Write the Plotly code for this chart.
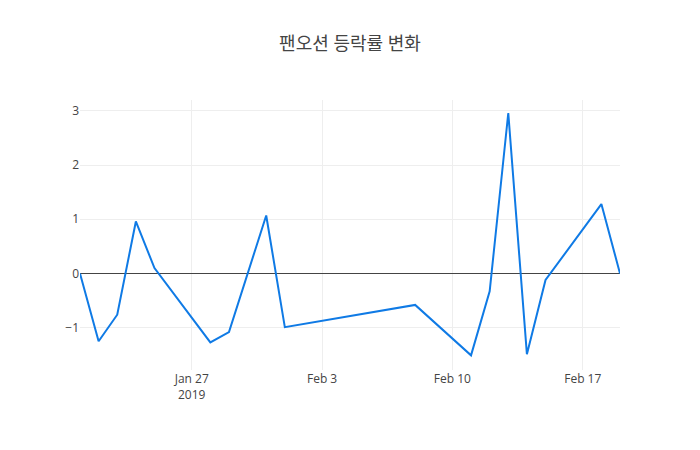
import plotly.graph_objects as go

dates = ["2019-01-21", "2019-01-22", "2019-01-23", "2019-01-24", "2019-01-25",
         "2019-01-28", "2019-01-29", "2019-01-31", "2019-02-01", "2019-02-08",
         "2019-02-11", "2019-02-12", "2019-02-13", "2019-02-14", "2019-02-15",
         "2019-02-18", "2019-02-19"]
change_rate = [0.0, -1.25, -0.76, 0.96, 0.10,
               -1.27, -1.08, 1.07, -0.99, -0.58,
               -1.51, -0.33, 2.96, -1.49, -0.12,
               1.28, 0.0]

fig = go.Figure(go.Scatter(
    x=dates, y=change_rate, mode="lines",
    line=dict(color="#0f7ae5", width=2),
))

fig.update_layout(
    width=700, height=450,
    title=dict(text="팬오션 등락률 변화", x=0.5, xanchor="center"),
    font=dict(family="'Open Sans', 'Noto Sans CJK KR', sans-serif", color="#444", size=12),
    title_font=dict(size=18),
    plot_bgcolor="white", paper_bgcolor="white",
    margin=dict(l=80, r=80, t=100, b=80),
    showlegend=False,
    xaxis=dict(showgrid=True, gridcolor="#eee", zeroline=False,
               range=["2019-01-21", "2019-02-19"]),
    yaxis=dict(showgrid=True, gridcolor="#eee", zeroline=True,
               zerolinecolor="#444", zerolinewidth=1,
               range=[-1.78, 3.2], dtick=1),
)

fig.write_html("out.html")
